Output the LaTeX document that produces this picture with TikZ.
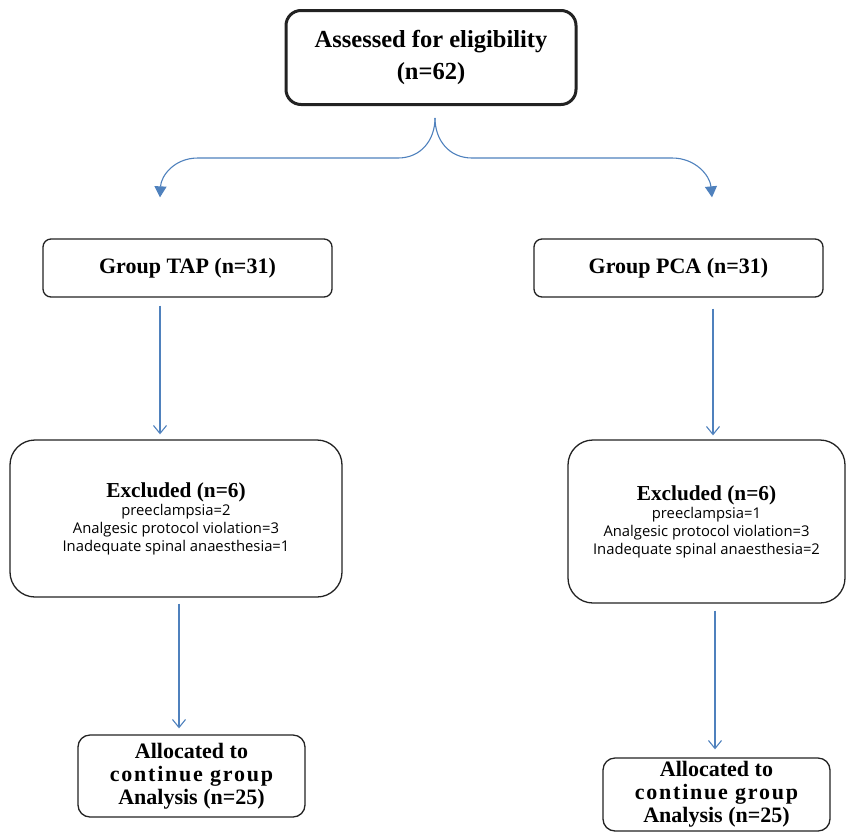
\documentclass[tikz,border=0pt]{standalone}
\usepackage{fontspec}
\setmainfont{Liberation Serif}
\newfontfamily\detailfont{Open Sans}
\newfontfamily\widefont[LetterSpace=8]{Liberation Serif}
\usetikzlibrary{arrows.meta}
\definecolor{flowblue}{HTML}{4F81BD}
\definecolor{boxline}{HTML}{222222}
\begin{document}
\begin{tikzpicture}[x=1pt,y=-1pt,
  box/.style={draw=boxline, line width=1.3pt, rounded corners=8pt, align=center, inner sep=0pt},
  titlefont/.style={font=\fontsize{22}{23}\selectfont\bfseries},
  detailbox/.style={box, rounded corners=25pt, font=\detailfont\fontsize{14.8}{18}\selectfont},
  link/.style={draw=flowblue, line width=1.1pt},
  varr/.style={link, -{Straight Barb[length=8pt,width=13pt]}},
  carr/.style={link, -{Triangle[length=11pt,width=12pt]}},
]
\useasboundingbox (0,0) rectangle (846,831);

\node[box, line width=3pt, rounded corners=15pt, minimum width=290pt, minimum height=94pt,
      font=\fontsize{24.5}{32}\selectfont\bfseries] (top) at (431,57.5) {Assessed for eligibility\\(n=62)};

\node[box, titlefont, minimum width=289pt, minimum height=58pt] (tap) at (187.5,268) {Group TAP (n=31)};
\node[box, titlefont, minimum width=289pt, minimum height=58pt] (pca) at (678.5,268) {Group PCA (n=31)};

\node[detailbox, minimum width=332pt, minimum height=157pt] (exl) at (176,518.5)
  {{\rmfamily\fontsize{21.3}{18}\selectfont\bfseries Excluded (n=6)}\\preeclampsia=2\\Analgesic protocol violation=3\\Inadequate spinal anaesthesia=1};
\node[detailbox, minimum width=277pt, minimum height=163pt] (exr) at (706.5,521.5)
  {{\rmfamily\fontsize{21.3}{18}\selectfont\bfseries Excluded (n=6)}\\preeclampsia=1\\Analgesic protocol violation=3\\Inadequate spinal anaesthesia=2};

\node[box, rounded corners=12pt, titlefont, minimum width=227pt, minimum height=82pt] (all) at (191.5,776)
  {Allocated to\\{\widefont\bfseries continue group}\\Analysis (n=25)};
\node[box, rounded corners=12pt, titlefont, minimum width=227pt, minimum height=73pt] (alr) at (716.5,794.5)
  {Allocated to\\{\widefont\bfseries continue group}\\Analysis (n=25)};

% brace-shaped split
\coordinate (cusp) at ([xshift=4pt,yshift=-12pt]top.south);
\draw[carr] (cusp) .. controls (435,140) and (421,158) .. (398,158) -- (198,158)
  .. controls (174,158) and (161,176) .. ([xshift=-27.5pt,yshift=41pt]tap.north);
\draw[carr] (cusp) .. controls (435,140) and (449,158) .. (472,158) -- (672,158)
  .. controls (696,158) and (710,176) .. ([xshift=33.5pt,yshift=41pt]pca.north);

% vertical arrows
\draw[varr] ([xshift=-27.5pt,yshift=-8pt]tap.south) -- ([xshift=-16pt,yshift=5pt]exl.north);
\draw[varr] ([xshift=34.5pt,yshift=-11pt]pca.south) -- ([xshift=6.5pt,yshift=4pt]exr.north);
\draw[varr] ([xshift=3pt,yshift=-6pt]exl.south) -- ([xshift=-12.5pt,yshift=6pt]all.north);
\draw[varr] ([xshift=8.5pt,yshift=-7pt]exr.south) -- ([xshift=-1.5pt,yshift=8pt]alr.north);
\end{tikzpicture}
\end{document}
